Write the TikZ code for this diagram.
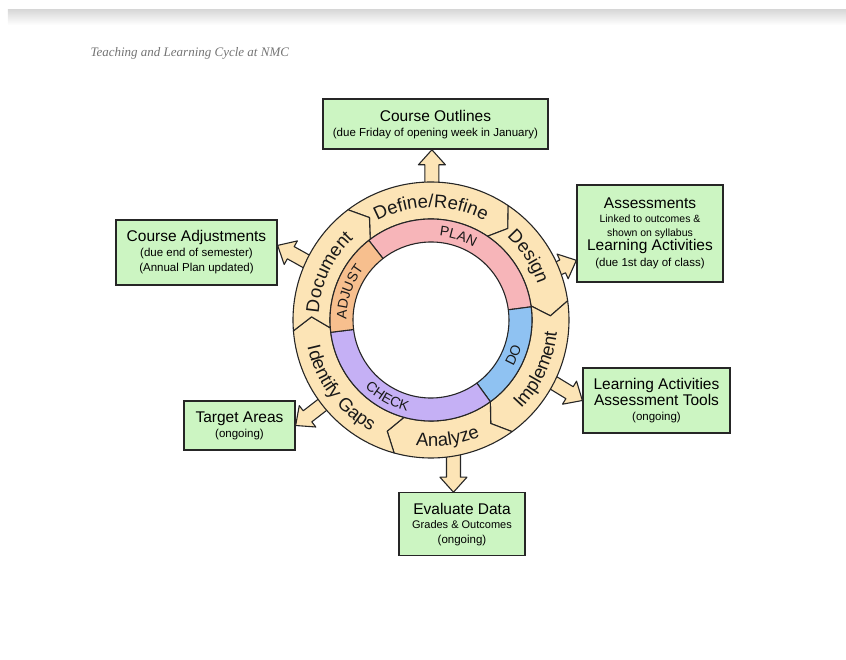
\documentclass[tikz,border=0pt]{standalone}
\usepackage{fontspec}
\setmainfont{Liberation Sans}
\newfontfamily\captionfont{Liberation Serif}
\usetikzlibrary{positioning, calc, decorations.text}

\definecolor{boxgreen}{HTML}{CCF5C2}
\definecolor{ringbeige}{HTML}{FCE4B6}
\definecolor{planpink}{HTML}{F7B5B9}
\definecolor{doblue}{HTML}{8FC2F2}
\definecolor{checkpurple}{HTML}{C5B0F5}
\definecolor{adjustorange}{HTML}{F7BF8E}

\begin{document}
\begin{tikzpicture}[x=1pt, y=1pt]
        \tikzstyle{box} = [rectangle, draw=black!85, line width=1.3pt, fill=boxgreen, align=center, inner sep=2pt, font=\fontsize{11.5}{14}\selectfont]
        \tikzstyle{seg} = [draw=black!85, line width=1.1pt, line join=round, fill=ringbeige]
        \tikzstyle{ringtext} = [decorate, decoration={text along path, text align=center, text color=black!90}]
        \tikzstyle{fatarrow} = [draw=black!85, line width=1.1pt, fill=ringbeige, line join=round,
            to path={let \p1=(\tikztostart), \p2=(\tikztotarget),
                \n1={atan2(\y2-\y1,\x2-\x1)}, \n2={veclen(\x2-\x1,\y2-\y1)-15} in
                ($(\p1)+(\n1+90:7)$) -- ++(\n1:\n2) -- ++(\n1+90:6.5) -- (\p2)
                -- ($(\p1)+(\n1:\n2)+(\n1-90:13.5)$) -- ++(\n1+90:6.5)
                -- ($(\p1)+(\n1-90:7)$) -- cycle}]

        \useasboundingbox (-431,-340) rectangle (415,320);
        \shade [top color=black!15, bottom color=white] (-423,310) rectangle (415,295);

        \node (caption) [anchor=west, text=black!55] at (-344,267) {\captionfont\itshape\fontsize{13}{15}\selectfont Teaching and Learning Cycle at NMC};

        \node (wheel) [circle, minimum size=276pt, inner sep=0pt] at (0,0) {};

        \node (outlines) [box, above=32pt of wheel, xshift=4.5pt, minimum width=225pt, minimum height=50pt] {
            {\fontsize{15.5}{18}\selectfont Course Outlines}\\[1pt]
            (due Friday of opening week in January)
        };

        \node (assess) [box, minimum width=146pt, minimum height=97pt] at (219,86.5) {
            {\fontsize{15.5}{18}\selectfont Assessments}\\
            {\fontsize{10.5}{12}\selectfont Linked to outcomes \&}\\
            {\fontsize{10.5}{12}\selectfont shown on syllabus}\\
            {\fontsize{15.5}{18}\selectfont Learning Activities}\\[2pt]
            (due 1st day of class)
        };

        \node (adjbox) [box, minimum width=161pt, minimum height=65pt] at (-234.5,67.5) {
            {\fontsize{15.5}{18}\selectfont Course Adjustments}\\[1pt]
            (due end of semester)\\[1pt]
            (Annual Plan updated)
        };

        \node (tools) [box, minimum width=147pt, minimum height=65pt] at (225.5,-80.5) {
            {\fontsize{15.5}{18}\selectfont Learning Activities}\\
            {\fontsize{15.5}{18}\selectfont Assessment Tools}\\[1pt]
            (ongoing)
        };

        \node (target) [box, minimum width=111pt, minimum height=49pt] at (-191.5,-105.5) {
            {\fontsize{15.5}{18}\selectfont Target Areas}\\[1pt]
            (ongoing)
        };

        \node (evaluate) [box, below=34pt of wheel, xshift=31pt, minimum width=126pt, minimum height=63pt] {
            {\fontsize{15.5}{18}\selectfont Evaluate Data}\\
            {\fontsize{11}{13}\selectfont Grades \& Outcomes}\\[1pt]
            (ongoing)
        };

        % arrow feet, hidden under the ring
        \coordinate (ptop) at (89.6:132);
        \coordinate (pdesign) at (22:132);
        \coordinate (pimplement) at (-27:132);
        \coordinate (panalyze) at (-80.2:132);
        \coordinate (pgaps) at (218:132);
        \coordinate (pdocument) at (155:132);

        \draw [fatarrow] (ptop) to (outlines.south -| ptop);
        \draw [fatarrow] (pdesign) to (assess.200);
        \draw [fatarrow] (pimplement) to (tools.west);
        \draw [fatarrow] (panalyze) to (evaluate.north -| panalyze);
        \draw [fatarrow] (pgaps) to (target.east);
        \draw [fatarrow] (pdocument) to (adjbox.5);

        % outer ring
        \filldraw [seg] (127:138) arc[start angle=127, end angle=56, radius=138pt] -- (50:119.5) -- (56:101) arc[start angle=56, end angle=127, radius=101pt] -- (121:119.5) -- cycle;
        \filldraw [seg] (56:138) arc[start angle=56, end angle=8, radius=138pt] -- (2:119.5) -- (8:101) arc[start angle=8, end angle=56, radius=101pt] -- (50:119.5) -- cycle;
        \filldraw [seg] (8:138) arc[start angle=8, end angle=-54, radius=138pt] -- (-60:119.5) -- (-54:101) arc[start angle=-54, end angle=8, radius=101pt] -- (2:119.5) -- cycle;
        \filldraw [seg] (-54:138) arc[start angle=-54, end angle=-105.5, radius=138pt] -- (-111.5:119.5) -- (-105.5:101) arc[start angle=-105.5, end angle=-54, radius=101pt] -- (-60:119.5) -- cycle;
        \filldraw [seg] (-105.5:138) arc[start angle=-105.5, end angle=-175.5, radius=138pt] -- (-181.5:119.5) -- (-175.5:101) arc[start angle=-175.5, end angle=-105.5, radius=101pt] -- (-111.5:119.5) -- cycle;
        \filldraw [seg] (184.5:138) arc[start angle=184.5, end angle=127, radius=138pt] -- (121:119.5) -- (127:101) arc[start angle=127, end angle=184.5, radius=101pt] -- (178.5:119.5) -- cycle;

        % inner ring
        \filldraw [seg, fill=planpink] (128:101) arc[start angle=128, end angle=7.5, radius=101pt] -- (7.5:78) arc[start angle=7.5, end angle=128, radius=78pt] -- cycle;
        \filldraw [seg, fill=doblue] (7.5:101) arc[start angle=7.5, end angle=-54, radius=101pt] -- (-54:78) arc[start angle=-54, end angle=7.5, radius=78pt] -- cycle;
        \filldraw [seg, fill=checkpurple] (-54:101) arc[start angle=-54, end angle=-173, radius=101pt] -- (-173:78) arc[start angle=-173, end angle=-54, radius=78pt] -- cycle;
        \filldraw [seg, fill=adjustorange] (187:101) arc[start angle=187, end angle=128, radius=101pt] -- (128:78) arc[start angle=128, end angle=187, radius=78pt] -- cycle;

        % ring labels
        \path [ringtext, decoration={text={|\fontsize{18.5}{20}\selectfont|Define/Refine}}] (140:112.5) arc[start angle=140, end angle=40, radius=112.5pt];
        \path [ringtext, decoration={text={|\fontsize{18.5}{20}\selectfont|Design}}] (83:112.5) arc[start angle=83, end angle=-17, radius=112.5pt];
        \path [ringtext, decoration={text={|\fontsize{18.5}{20}\selectfont|Document}}] (205:112.5) arc[start angle=205, end angle=105, radius=112.5pt];
        \path [ringtext, decoration={text={|\fontsize{18.5}{20}\selectfont|Implement}}] (-75:126.5) arc[start angle=-75, end angle=25, radius=126.5pt];
        \path [ringtext, decoration={text={|\fontsize{18.5}{20}\selectfont|Analyze}}] (-132:126.5) arc[start angle=-132, end angle=-32, radius=126.5pt];
        \path [ringtext, decoration={text={|\fontsize{18.5}{20}\selectfont|Identify Gaps}}] (162:126.5) arc[start angle=162, end angle=272, radius=126.5pt];

        \path [ringtext, decoration={text={|\fontsize{14}{16}\selectfont|PLAN}}] (117:84.5) arc[start angle=117, end angle=27, radius=84.5pt];
        \path [ringtext, decoration={text={|\fontsize{14}{16}\selectfont|ADJUST}}] (206:84.5) arc[start angle=206, end angle=116, radius=84.5pt];
        \path [ringtext, decoration={text={|\fontsize{14}{16}\selectfont|DO}}] (-68:94.5) arc[start angle=-68, end angle=22, radius=94.5pt];
        \path [ringtext, decoration={text={|\fontsize{14}{16}\selectfont|CHECK}}] (195.5:94.5) arc[start angle=195.5, end angle=285.5, radius=94.5pt];
    \end{tikzpicture}
\end{document}
